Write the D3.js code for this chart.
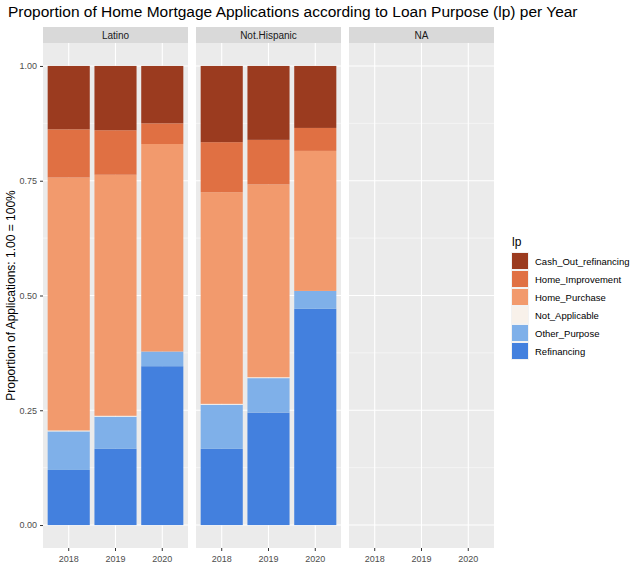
<!DOCTYPE html>
<html><head><meta charset="utf-8">
<script src="https://cdn.jsdelivr.net/npm/d3@7"></script>
<style>body{margin:0;background:#fff}text{font-family:"Liberation Sans",Arial,sans-serif}</style>
</head><body>
<svg id="c" width="640" height="588"></svg>
<script>
const panels = ['Latino', 'Not.Hispanic', 'NA'];
const years = ['2018', '2019', '2020'];
const purposes = ['Cash_Out_refinancing', 'Home_Improvement', 'Home_Purchase', 'Not_Applicable', 'Other_Purpose', 'Refinancing'];
const colors = ['#9B3B1F', '#E07043', '#F29A6D', '#F8F1EA', '#7FB0E9', '#4380DE'];
// shares per year, stacked from Refinancing (bottom) upward
const latino = {
  Refinancing: [0.120, 0.166, 0.346],
  Other_Purpose: [0.084, 0.070, 0.032],
  Not_Applicable: [0.002, 0.002, 0.000],
  Home_Purchase: [0.551, 0.525, 0.452],
  Home_Improvement: [0.105, 0.097, 0.045],
  Cash_Out_refinancing: [0.138, 0.140, 0.125]
};
const notHispanic = {
  Refinancing: [0.166, 0.245, 0.471],
  Other_Purpose: [0.096, 0.075, 0.039],
  Not_Applicable: [0.002, 0.002, 0.000],
  Home_Purchase: [0.461, 0.420, 0.305],
  Home_Improvement: [0.109, 0.097, 0.050],
  Cash_Out_refinancing: [0.166, 0.161, 0.135]
};
const panelData = [latino, notHispanic, null];

const svg = d3.select('#c');
const yTop = 43, yBottom = 548, pw = 145, gap = 8, x0 = 43;
const y = d3.scaleLinear().domain([-0.05, 1.05]).range([yBottom, yTop]);
const color = d3.scaleOrdinal(purposes, colors);

svg.append('text').attr('x', 8).attr('y', 17).attr('font-size', 15.5).text('Proportion of Home Mortgage Applications according to Loan Purpose (lp) per Year');

const stackOrder = purposes.slice().reverse();

panels.forEach((p, i) => {
  const px = x0 + i * (pw + gap);
  const g = svg.append('g').attr('transform', `translate(${px},0)`);
  const x = d3.scaleBand().domain(years).range([0, pw]).padding(0.1);
  g.append('rect').attr('y', 27).attr('width', pw).attr('height', 16).attr('fill', '#D9D9D9');
  g.append('text').attr('x', pw / 2).attr('y', 39).attr('text-anchor', 'middle').attr('font-size', 10).attr('fill', '#1A1A1A').text(p);
  g.append('rect').attr('y', yTop).attr('width', pw).attr('height', yBottom - yTop).attr('fill', '#EBEBEB');
  [0.125, 0.375, 0.625, 0.875].forEach(v => g.append('line').attr('x2', pw).attr('y1', y(v)).attr('y2', y(v)).attr('stroke', '#fff').attr('stroke-width', 0.5));
  [0, 0.25, 0.5, 0.75, 1].forEach(v => g.append('line').attr('x2', pw).attr('y1', y(v)).attr('y2', y(v)).attr('stroke', '#fff').attr('stroke-width', 1.1));
  years.forEach(yr => g.append('line').attr('x1', x(yr) + x.bandwidth() / 2).attr('x2', x(yr) + x.bandwidth() / 2).attr('y1', yTop).attr('y2', yBottom).attr('stroke', '#fff').attr('stroke-width', 1.1));
  const d = panelData[i];
  if (d) {
    const rows = years.map((yr, j) => { const r = { year: yr }; purposes.forEach(k => r[k] = d[k][j]); return r; });
    const series = d3.stack().keys(stackOrder)(rows);
    g.selectAll('g.s').data(series).join('g').attr('fill', s => color(s.key))
      .selectAll('rect').data(s => s).join('rect')
      .attr('x', r => x(r.data.year)).attr('width', x.bandwidth())
      .attr('y', r => y(r[1])).attr('height', r => y(r[0]) - y(r[1]));
  }
  const ax = g.append('g').attr('transform', `translate(0,${yBottom})`).call(d3.axisBottom(x).tickSize(3).tickSizeOuter(0));
  ax.select('.domain').remove();
  ax.selectAll('line').attr('stroke', '#333');
  ax.selectAll('text').attr('fill', '#4D4D4D').attr('font-size', 9).attr('dy', '0.9em');
});

const ay = svg.append('g').attr('transform', `translate(${x0},0)`).call(d3.axisLeft(y).tickValues([0, 0.25, 0.5, 0.75, 1]).tickFormat(d3.format('.2f')).tickSize(3));
ay.select('.domain').remove();
ay.selectAll('line').attr('stroke', '#333');
ay.selectAll('text').attr('fill', '#4D4D4D').attr('font-size', 9);

svg.append('text').attr('transform', `translate(15,${(yTop + yBottom) / 2}) rotate(-90)`).attr('text-anchor', 'middle').attr('font-size', 12).text('Proportion of Applications: 1.00 = 100%');

const lg = svg.append('g').attr('transform', 'translate(511,0)');
lg.append('text').attr('x', 1).attr('y', 246).attr('font-size', 12).text('lp');
purposes.forEach((k, i) => {
  const yy = 252 + i * 18;
  lg.append('rect').attr('y', yy).attr('width', 18).attr('height', 18).attr('fill', '#F2F2F2');
  lg.append('rect').attr('x', 1).attr('y', yy + 1).attr('width', 16).attr('height', 16).attr('fill', color(k));
  lg.append('text').attr('x', 24).attr('y', yy + 13).attr('font-size', 9.5).text(k);
});
</script>
</body></html>
